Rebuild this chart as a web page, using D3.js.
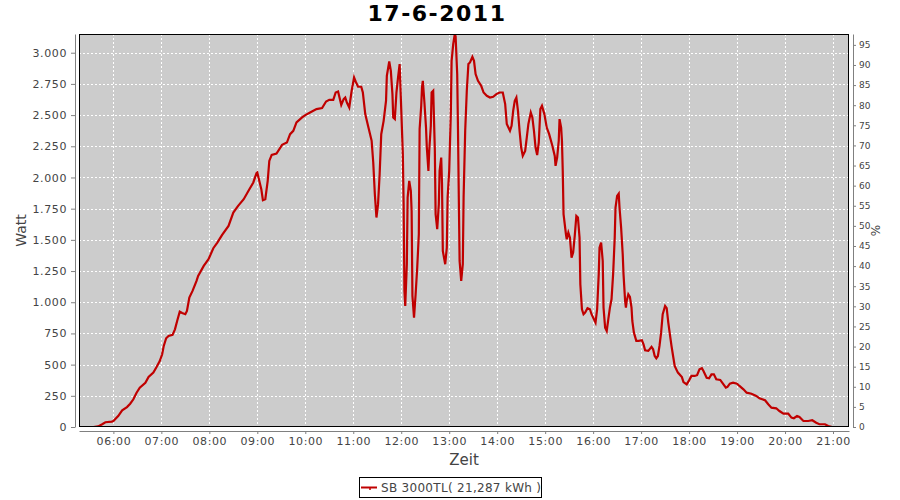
<!DOCTYPE html>
<html>
<head>
<meta charset="utf-8">
<script src="https://cdn.jsdelivr.net/npm/d3@7"></script>
<style>
  html, body { margin: 0; padding: 0; background: #fff; }
  svg { display: block; font-family: "DejaVu Sans", sans-serif; }
</style>
</head>
<body>
<svg id="chart" width="900" height="500"></svg>
<script>
// ---- data ----
const chartTitle = "17-6-2011";
const seriesName = "SB 3000TL( 21,287 kWh )";
const times = [
"05:35","05:41","05:46","05:50","05:58","06:00","06:06","06:11","06:17","06:21","06:25","06:29","06:33","06:40","06:44","06:50","06:54","06:58",
"07:01","07:03","07:06","07:09","07:14","07:17","07:20","07:23","07:26","07:30","07:32","07:35","07:39","07:44","07:46","07:53","07:59",
"08:05","08:10","08:16","08:24","08:30","08:36","08:43","08:49","08:55","08:59",
"09:00","09:05","09:07","09:10","09:13","09:15","09:18","09:24","09:31","09:37","09:41","09:45","09:49","09:56",
"10:00","10:06","10:14","10:21","10:26","10:30","10:35","10:38","10:41","10:45","10:48","10:50","10:52","10:55","10:58",
"11:01","11:03","11:06","11:10","11:12","11:15","11:19","11:23","11:25","11:27","11:29","11:31","11:33","11:35","11:38","11:41","11:42","11:45","11:47","11:49","11:50","11:52","11:54","11:56","11:58",
"12:00","12:02","12:03","12:04","12:05","12:07","12:08","12:10","12:12","12:13","12:14","12:16","12:18","12:20","12:22","12:23","12:25","12:26","12:27","12:29","12:31","12:32","12:34","12:35","12:37","12:38","12:40","12:42","12:43","12:45","12:47","12:48","12:50","12:51","12:52","12:55","12:57","12:58",
"13:00","13:02","13:03","13:05","13:07","13:08","13:10","13:11","13:12","13:13","13:15","13:17","13:18","13:20","13:22","13:24","13:26","13:29","13:31","13:33","13:36","13:40","13:43","13:47","13:51","13:55","13:59",
"14:03","14:07","14:10","14:12","14:16","14:18","14:20","14:22","14:24","14:26","14:28","14:30","14:32","14:35","14:37","14:39","14:42","14:44","14:46","14:48","14:50","14:52","14:54","14:56","14:59",
"15:02","15:05","15:09","15:12","15:13","15:15","15:17","15:18","15:20","15:21","15:22","15:23","15:26","15:27","15:29","15:31","15:33","15:35","15:37","15:39","15:41","15:43","15:44","15:46","15:48","15:50","15:53","15:56","15:58",
"16:01","16:03","16:05","16:07","16:08","16:10","16:12","16:13","16:15","16:17","16:19","16:21","16:23","16:25","16:27","16:28","16:30","16:32","16:33","16:35","16:37","16:38","16:40","16:41","16:42","16:44","16:46","16:48","16:49","16:51","16:54","16:57",
"17:01","17:03","17:05","17:09","17:13","17:15","17:17","17:19","17:21","17:23","17:25","17:27","17:30","17:32","17:34","17:36","17:38","17:40","17:42","17:46","17:51","17:53","17:57",
"18:00","18:03","18:07","18:10","18:13","18:16","18:18","18:22","18:25","18:28","18:31","18:34","18:39","18:43","18:46","18:48","18:51","18:55",
"19:00","19:03","19:08","19:12","19:18","19:24","19:28","19:35","19:39","19:43","19:49","19:53","19:58",
"20:04","20:08","20:11","20:15","20:18","20:23","20:29","20:34","20:39","20:43","20:50","20:54","20:59"
];
const watts = [
0,5,22,38,43,48,88,134,160,187,222,275,315,355,401,436,481,529,
583,650,711,730,738,783,856,925,914,904,930,1037,1091,1171,1211,1291,1345,
1433,1478,1540,1612,1719,1772,1826,1893,1960,2034,
2040,1906,1818,1826,1973,2133,2181,2192,2262,2280,2347,2374,2441,2481,
2500,2521,2548,2556,2609,2622,2622,2681,2689,2582,2628,2641,2601,2561,2695,
2801,2769,2727,2727,2681,2508,2400,2294,2120,1866,1679,1786,2027,2347,2454,2615,2815,2930,2855,2668,2481,2468,2681,2801,2909,
2548,2187,1786,1091,970,1305,1839,1973,1893,1732,1051,877,1064,1278,1545,2388,2574,2722,2775,2601,2400,2240,2053,2213,2414,2681,2695,2227,1706,1586,1786,2053,2160,1946,1411,1305,1438,1839,
2053,2508,2935,3069,3150,3130,2829,2374,1839,1331,1171,1305,1839,2374,2695,2909,2922,2967,2935,2829,2775,2735,2681,2655,2641,2647,2668,
2681,2681,2588,2428,2374,2414,2534,2615,2641,2534,2374,2240,2173,2213,2320,2428,2521,2481,2374,2240,2180,2280,2548,2574,2508,
2400,2347,2254,2173,2093,2160,2294,2468,2400,2294,2053,1706,1545,1505,1558,1518,1358,1398,1532,1692,1679,1518,1144,944,904,917,952,944,904,
864,837,944,1225,1438,1478,1331,957,796,770,864,957,1024,1225,1518,1759,1853,1871,1759,1598,1385,1225,1011,957,1011,1064,1043,957,850,756,690,690,
695,663,615,610,642,623,569,551,569,650,756,904,970,952,837,743,650,569,489,436,400,360,342,
374,409,409,415,463,471,449,395,390,422,422,383,377,342,315,321,347,355,
347,329,302,275,267,249,230,214,182,155,150,128,107,
107,75,70,88,80,48,48,54,34,22,22,8,0
];
const leftTicks = [0,250,500,750,1000,1250,1500,1750,2000,2250,2500,2750,3000];
const rightTicks = [0,5,10,15,20,25,30,35,40,45,50,55,60,65,70,75,80,85,90,95];
const hourTicks = ["06:00","07:00","08:00","09:00","10:00","11:00","12:00","13:00","14:00","15:00","16:00","17:00","18:00","19:00","20:00","21:00"];
const xDomain = ["05:17","21:20"];
const yMax = 3150;
const pctMax = 97.7;

// ---- layout ----
const L = 79, R = 849, T = 34, B = 427;
const parse = d3.timeParse("%H:%M");
const fmt = d3.timeFormat("%H:%M");
const deLocale = d3.formatLocale({decimal: ",", thousands: ".", grouping: [3], currency: ["", "€"]});
const fmtW = deLocale.format(",d");

const svg = d3.select("#chart");
const x = d3.scaleTime().domain(xDomain.map(parse)).range([L, R]);
const y = d3.scaleLinear().domain([0, yMax]).range([B, T]);
const y2 = d3.scaleLinear().domain([0, pctMax]).range([B, T]);

const data = times.map((t, i) => ({t: parse(t), v: watts[i]}));

// title
svg.append("text").attr("x", 437).attr("y", 21).attr("text-anchor", "middle")
  .attr("font-size", 22).attr("font-weight", "bold").attr("fill", "#000")
  .attr("letter-spacing", 1.5).text(chartTitle);

// plot background
svg.append("rect").attr("x", L).attr("y", T).attr("width", R - L).attr("height", B - T).attr("fill", "#cccccc");

// grid
const grid = svg.append("g").attr("stroke", "#fff").attr("stroke-width", 1).attr("stroke-dasharray", "2,2");
hourTicks.map(parse).forEach(d => {
  const px = Math.round(x(d)) + 0.5;
  grid.append("line").attr("x1", px).attr("x2", px).attr("y1", T).attr("y2", B);
});
leftTicks.forEach(v => {
  const py = Math.round(y(v)) + 0.5;
  if (v > 0) grid.append("line").attr("x1", L).attr("x2", R).attr("y1", py).attr("y2", py);
});

// series
svg.append("clipPath").attr("id", "clip").append("rect").attr("x", L).attr("y", T).attr("width", R - L).attr("height", B - T);
const line = d3.line().x(d => x(d.t)).y(d => y(d.v));
svg.append("path").datum(data).attr("clip-path", "url(#clip)")
  .attr("fill", "none").attr("stroke", "#c00000").attr("stroke-width", 2.2)
  .attr("stroke-linejoin", "miter").attr("d", line);

// plot border
svg.append("rect").attr("x", L + 0.5).attr("y", T + 0.5).attr("width", R - L - 1).attr("height", B - T - 1)
  .attr("fill", "none").attr("stroke", "#000").attr("stroke-width", 1);

function styleAxis(g) {
  g.select(".domain").attr("stroke", "#808080");
  g.selectAll(".tick line").attr("stroke", "#808080");
  g.selectAll(".tick text").attr("fill", "#444").attr("font-family", "DejaVu Sans, sans-serif");
}

// left axis
const gL = svg.append("g").attr("transform", `translate(${L - 4},0)`)
  .call(d3.axisLeft(y).tickValues(leftTicks).tickFormat(fmtW).tickSize(4).tickSizeOuter(0).tickPadding(4));
gL.selectAll(".tick text").attr("font-size", 11).attr("letter-spacing", 0.6);
styleAxis(gL);

// right axis
const gR = svg.append("g").attr("transform", `translate(${R + 4},0)`)
  .call(d3.axisRight(y2).tickValues(rightTicks).tickFormat(d3.format("d")).tickSize(3).tickSizeOuter(0).tickPadding(3));
gR.selectAll(".tick text").attr("font-size", 9);
styleAxis(gR);

// bottom axis
const gB = svg.append("g").attr("transform", `translate(0,${B + 4})`)
  .call(d3.axisBottom(x).tickValues(hourTicks.map(parse)).tickFormat(fmt).tickSize(3).tickSizeOuter(0).tickPadding(3));
gB.selectAll(".tick text").attr("font-size", 11).attr("letter-spacing", 0.6);
styleAxis(gB);

// axis labels
svg.append("text").attr("transform", `translate(26,${(T + B) / 2}) rotate(-90)`).attr("text-anchor", "middle")
  .attr("font-size", 14).attr("fill", "#444").text("Watt");
svg.append("text").attr("transform", `translate(880,${(T + B) / 2}) rotate(-90)`).attr("text-anchor", "middle")
  .attr("font-size", 12).attr("fill", "#444").text("%");
svg.append("text").attr("x", (L + R) / 2).attr("y", 465).attr("text-anchor", "middle")
  .attr("font-size", 15).attr("fill", "#444").text("Zeit");

// legend
const lg = svg.append("g");
lg.append("rect").attr("x", 359.5).attr("y", 477.5).attr("width", 182).attr("height", 20)
  .attr("fill", "#fff").attr("stroke", "#000").attr("stroke-width", 1);
lg.append("line").attr("x1", 361).attr("x2", 377).attr("y1", 487.5).attr("y2", 487.5)
  .attr("stroke", "#c00000").attr("stroke-width", 2);
lg.append("line").attr("x1", 370).attr("x2", 370).attr("y1", 487.5).attr("y2", 490)
  .attr("stroke", "#c00000").attr("stroke-width", 1.5);
lg.append("text").attr("x", 381).attr("y", 492).attr("font-size", 12).attr("letter-spacing", 0.3)
  .attr("fill", "#444").text(seriesName);
</script>
</body>
</html>
